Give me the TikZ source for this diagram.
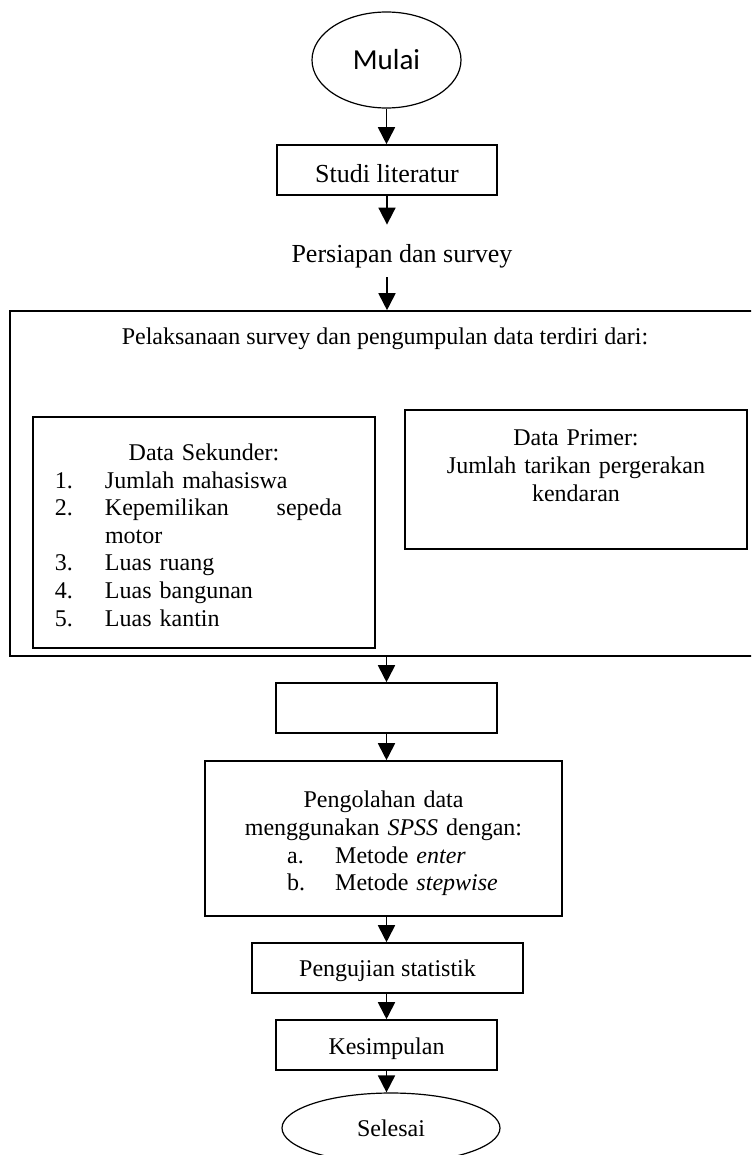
\documentclass[tikz,border=0pt]{standalone}
\usepackage{fontspec}
\setmainfont{Liberation Serif}
\newfontfamily\calibri{Carlito}
\usepackage{tikz}
\usetikzlibrary{arrows.meta,shapes.geometric}
\newcommand\topgap[1]{\raisebox{0pt}[#1][0pt]{}}
\newcommand\botgap[1]{\raisebox{0pt}[0pt][#1]{}}

\begin{document}
\begin{tikzpicture}[x=0.5pt,y=-0.5pt,
term/.style={draw,ellipse,line width=0.6pt,inner sep=0pt,font=\fontsize{12}{13.8}\selectfont},
proc/.style={draw,line width=0.8pt,inner sep=0pt,align=center,font=\fontsize{12}{13.8}\selectfont},
plain/.style={inner sep=0pt,align=center,font=\fontsize{12}{13.8}\selectfont},
arr/.style={-{Triangle[length=8.5pt,width=8.5pt]},line width=0.9pt}]
\clip (0,0) rectangle (751,1155);
\node[term,minimum width=74.5pt,minimum height=48pt,font=\calibri\fontsize{14.5}{17}\selectfont] (start) at (386.5,60) {Mulai};
\node[proc,minimum width=110pt,minimum height=25pt,font=\fontsize{13}{15}\selectfont] (lit) at (387,170) {\topgap{12.5pt}Studi literatur};
\node[plain,font=\fontsize{13}{15}\selectfont,text height=19pt,text depth=7pt,anchor=base] (prep) at (402,263) {Persiapan dan survey};
\node[proc,minimum width=375pt,minimum height=172.5pt] (surv) at (385,483.5) {};
\node[plain,anchor=base] (survhead) at (385,344) {Pelaksanaan survey dan pengumpulan data terdiri dari:};
\node[proc,minimum width=171pt,minimum height=115.5pt,text width=160pt] (sek) at (204,532.5) {\topgap{15pt}Data Sekunder:\\
  \hspace*{-5.5pt}\begin{tabular}[t]{@{}p{25pt}@{}p{118.5pt}@{}}
  1. & Jumlah mahasiswa\\ 2. & Kepemilikan\hfill sepeda\\ & motor\\
  3. & Luas ruang\\ 4. & Luas bangunan\\ 5. & Luas kantin
  \end{tabular}};
\node[proc,minimum width=171pt,minimum height=69.5pt,text width=160pt] (prim) at (576,479.5) {Data Primer:\\ Jumlah tarikan pergerakan\\ kendaran\botgap{14pt}};
\node[proc,minimum width=110.5pt,minimum height=25pt] (blank) at (386.5,708) {};
\node[proc,minimum width=178.5pt,minimum height=77.5pt,text width=170pt] (olah) at (383.5,838.5) {\topgap{15pt}Pengolahan data\\ menggunakan \textit{SPSS} dengan:\\
  \hspace*{9pt}\begin{tabular}[t]{@{}p{24pt}@{}l@{}}
  a. & Metode \textit{enter}\\ b. & Metode \textit{stepwise}
  \end{tabular}};
\node[proc,minimum width=135.5pt,minimum height=25pt] (uji) at (387.5,968) {\topgap{11pt}Pengujian statistik};
\node[proc,minimum width=110.5pt,minimum height=25pt] (simp) at (386.5,1045) {\topgap{12pt}Kesimpulan};
\node[term,minimum width=109pt,minimum height=35pt] (stop) at (391,1128) {Selesai};
\draw[arr] (start)--(start|-lit.north);
\draw[arr] (lit)--(lit|-prep.north);
\draw[arr] (lit|-prep.south)--(lit|-surv.north);
\draw[arr] (blank|-surv.south)--(blank);
\draw[arr] (blank)--(blank|-olah.north);
\draw[arr] (blank|-olah.south)--(blank|-uji.north);
\draw[arr] (blank|-uji.south)--(blank|-simp.north);
\draw[arr] (simp)--(simp|-stop.north);
\end{tikzpicture}
\end{document}
